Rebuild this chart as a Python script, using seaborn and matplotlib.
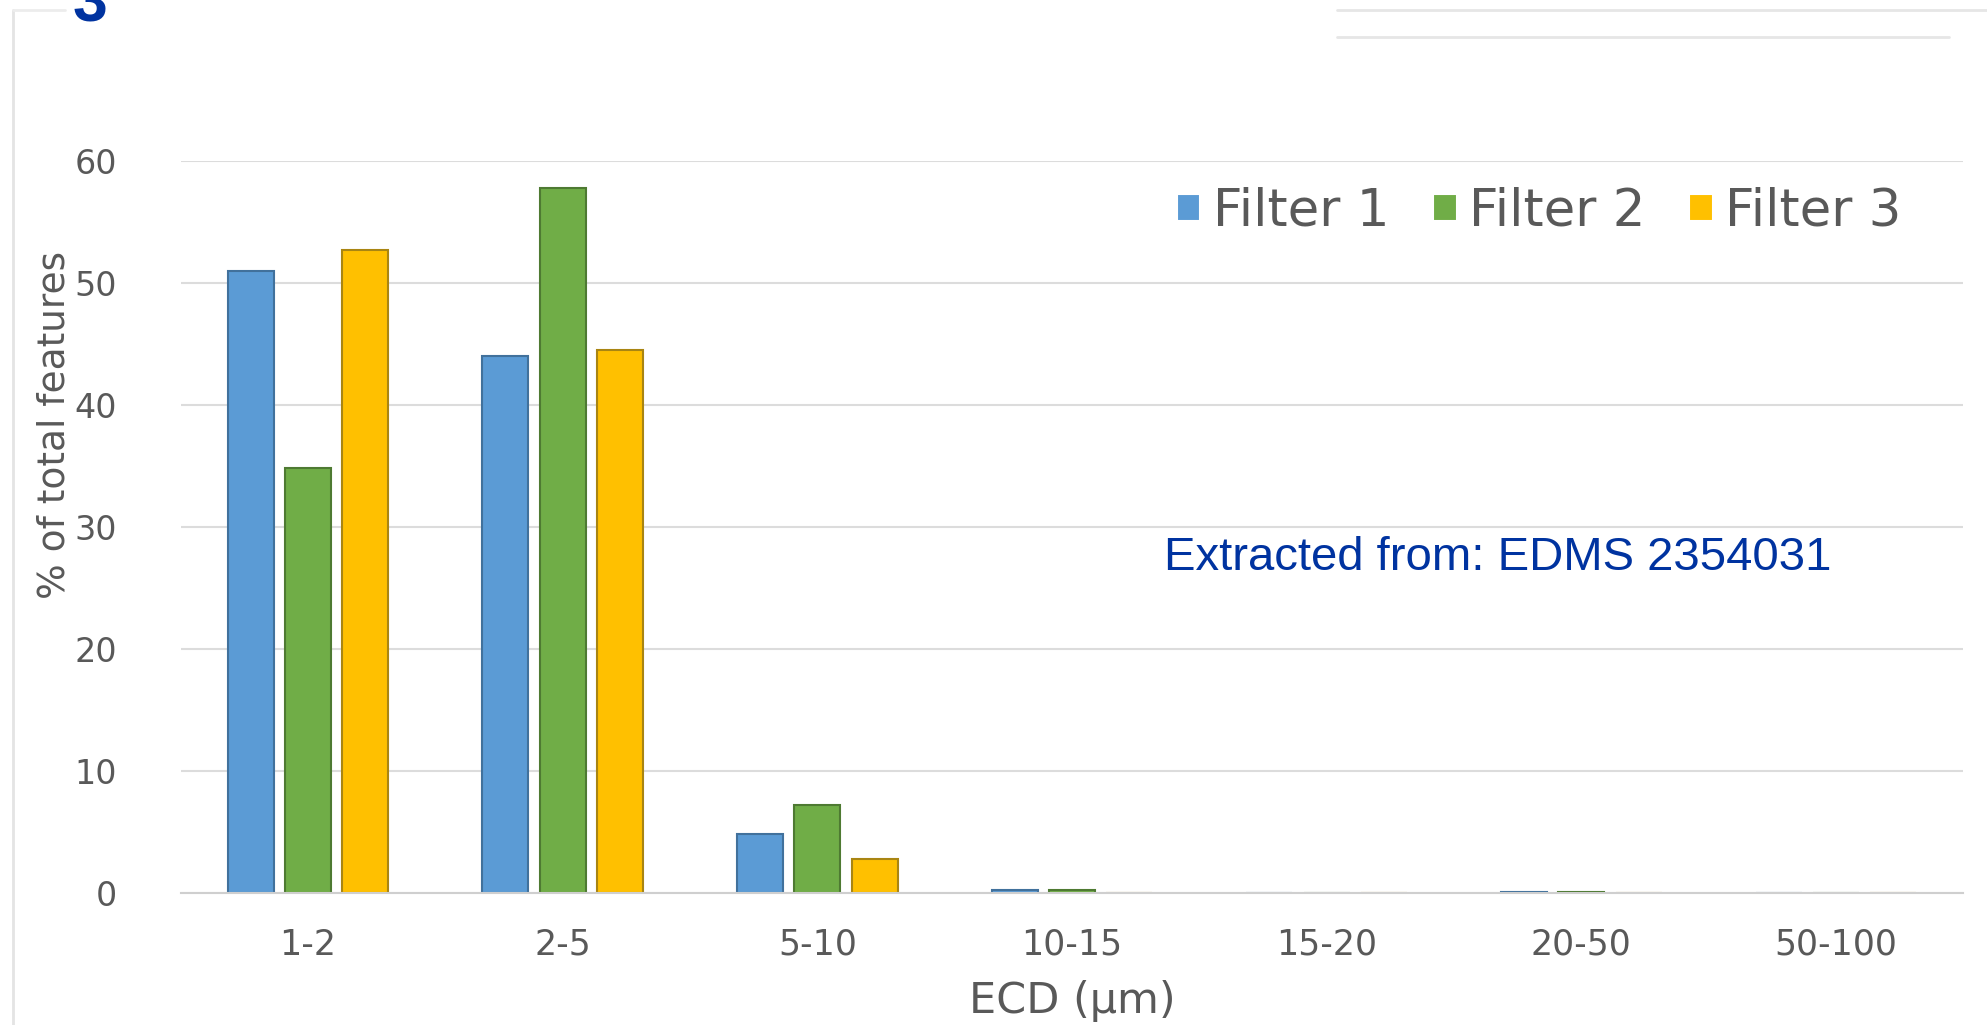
import matplotlib
matplotlib.use("Agg")
import matplotlib.pyplot as plt
import seaborn as sns
import pandas as pd
from matplotlib.lines import Line2D

# Size classes (equivalent circular diameter) and share of features per filter
categories = ["1-2", "2-5", "5-10", "10-15", "15-20", "20-50", "50-100"]
filter1 = [51.0, 44.0, 4.8, 0.25, 0.0, 0.12, 0.0]
filter2 = [34.8, 57.8, 7.2, 0.25, 0.0, 0.12, 0.0]
filter3 = [52.7, 44.5, 2.8, 0.0, 0.0, 0.0, 0.0]
series_names = ["Filter 1", "Filter 2", "Filter 3"]
y_ticks = [0, 10, 20, 30, 40, 50, 60]

face_colors = ["#5B9BD5", "#70AD47", "#FFC000"]
edge_colors = ["#41719C", "#4E7A32", "#A98512"]
text_gray = "#595959"

rows = []
for name, vals in zip(series_names, [filter1, filter2, filter3]):
    for cat, v in zip(categories, vals):
        rows.append({"ECD": cat, "Filter": name, "pct": v})
df = pd.DataFrame(rows)

sns.set_theme(style="white")
plt.rcParams["font.family"] = ["DejaVu Sans"]

fig = plt.figure(figsize=(19.87, 10.25), dpi=100)
fig.patch.set_facecolor("white")
ax = fig.add_axes([0.0909, 0.1288, 0.8972, 0.7142])

sns.barplot(data=df, x="ECD", y="pct", hue="Filter", order=categories,
            hue_order=series_names, palette=face_colors, width=0.675,
            gap=0.2, ax=ax, linewidth=1.5, saturation=1)

for cont, ec in zip(ax.containers, edge_colors):
    for p in cont.patches:
        p.set_edgecolor(ec)
        p.set_linewidth(1.5)

ax.set_ylim(0, 60)
ax.set_yticks(y_ticks)
ax.set_xlim(-0.5, len(categories) - 0.5)
ax.yaxis.grid(True, color="#dcdcdc", linewidth=1.5)
ax.set_axisbelow(True)
for s in ["top", "right", "left"]:
    ax.spines[s].set_visible(False)
ax.spines["bottom"].set_color("#cfcfcf")
ax.spines["bottom"].set_linewidth(1.5)

ax.tick_params(axis="y", length=0, pad=46, labelsize=24, labelcolor=text_gray)
ax.tick_params(axis="x", length=0, pad=25, labelsize=25, labelcolor=text_gray)

ax.set_ylabel("% of total features", fontsize=27, color=text_gray, va="center")
ax.yaxis.set_label_coords(-0.071, 0.64)
ax.set_xlabel("ECD (\u00b5m)", fontsize=31, color=text_gray, va="center")
ax.xaxis.set_label_coords(0.5, -0.1475)

handles, labels = ax.get_legend_handles_labels()
ax.legend(handles, labels, ncol=3, frameon=False, loc="center",
          bbox_to_anchor=(0.7748, 0.7932), bbox_transform=fig.transFigure,
          fontsize=37, labelcolor=text_gray, handlelength=0.45,
          handleheight=0.45, handletextpad=0.25, columnspacing=0.85)

fig.text(0.5858, 1 - 558 / 1025, "Extracted from: EDMS 2354031",
         family="Liberation Sans", fontsize=34, color="#0033A0",
         ha="left", va="center")

# slide number, cut by the top edge
fig.text(73 / 1987, 1 - 22 / 1025, "3", family="Liberation Sans",
         fontweight="bold", fontsize=45, color="#0033A0",
         ha="left", va="baseline")

# faint frame lines around the slide
fig.add_artist(Line2D([13 / 1987, 13 / 1987], [0, 1 - 10 / 1025],
                      transform=fig.transFigure, color="#e4e4e4", lw=2))
fig.add_artist(Line2D([13 / 1987, 65 / 1987], [1 - 10 / 1025, 1 - 10 / 1025],
                      transform=fig.transFigure, color="#ececec", lw=2))
fig.add_artist(Line2D([1337 / 1987, 1.0], [1 - 10 / 1025, 1 - 10 / 1025],
                      transform=fig.transFigure, color="#e6e6e6", lw=2))
fig.add_artist(Line2D([1337 / 1987, 1949 / 1987], [1 - 37 / 1025, 1 - 37 / 1025],
                      transform=fig.transFigure, color="#e6e6e6", lw=2))

fig.savefig("out.png", dpi=100, facecolor="white")
